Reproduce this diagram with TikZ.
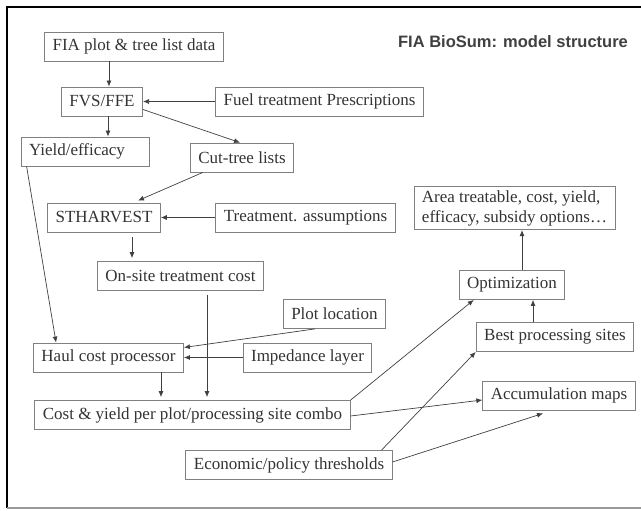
\documentclass[tikz,border=0pt]{standalone}
\usepackage{fontspec}
\setmainfont{Liberation Serif}
\newfontfamily\titlefont{Liberation Sans}
\usepackage{tikz}
\usetikzlibrary{arrows.meta}
\usetikzlibrary{positioning}

\begin{document}
\begin{tikzpicture}[x=1pt, y=-1pt,
		box/.style={draw=black!50, line width=0.8pt, inner xsep=8pt, minimum height=29pt, text=black!80, font=\fontsize{17}{20}\selectfont},
		arr/.style={draw=black!75, line width=0.7pt, -{Latex[length=6pt,width=5pt]}},
		line/.style={draw=black!75, line width=0.7pt}]
		\useasboundingbox (0,0) rectangle (641,511);
		\draw[line width=1.5pt] (641,7) -- (7,7) -- (7,508);
		\draw[black!40, line width=1.2pt] (7,508) -- (641,508);
		\node[text=black!75, font=\titlefont\bfseries\fontsize{16.5}{20}\selectfont] (title) at (513,42) {FIA BioSum: model structure};
		\node[box] (data) at (134,46.5) {FIA plot \& tree list data};
		\node[box] (fvs) at (102,101.5) {FVS/FFE};
		\node[box] (fuel) at (319.5,101.5) {Fuel treatment Prescriptions};
		\node[box, text width=112pt, align=left] (yield) at (85,151.5) {Yield/efficacy};
		\node[box] (cut) at (242,157.5) {Cut-tree lists};
		\node[box] (sth) at (104,217.5) {STHARVEST};
		\node[box] (treat) at (305.5,217.5) {Treatment. assumptions};
		\node[box, align=left, inner ysep=4pt] (area) at (514.5,208) {Area treatable, cost, yield,\\efficacy, subsidy options\ldots};
		\node[box] (onsite) at (180.5,276) {On-site treatment cost};
		\node[box] (plot) at (334.5,314) {Plot location};
		\node[box] (opt) at (512,285) {Optimization};
		\node[box] (haul) at (108.5,357.5) {Haul cost processor};
		\node[box] (imped) at (307.5,357.5) {Impedance layer};
		\node[box] (best) at (555,337) {Best processing sites};
		\node[box] (accum) at (559,395.5) {Accumulation maps};
		\node[box] (cost) at (192.5,415) {Cost \& yield per plot/processing site combo};
		\node[box] (econ) at (289,465) {Economic/policy thresholds};
		\draw[arr] ([xshift=7pt]fvs.north |- data.south) -- ([xshift=7pt]fvs.north);
		\draw[arr] (fuel.west) -- (fvs.east);
		\draw[arr] ([xshift=6pt]fvs.south) -- ([xshift=6pt]fvs.south |- yield.north);
		\draw[arr] ([yshift=-8pt]fvs.east) -- ([xshift=-2pt]cut.north);
		\draw[arr] ([xshift=13pt]cut.south west) -- ([xshift=34pt,yshift=2pt]sth.north);
		\draw[arr] (treat.west) -- (sth.east);
		\draw[arr, shorten >=3pt] ([xshift=28pt,yshift=-5pt]sth.south) -- ([xshift=28pt]sth.south |- onsite.north);
		\draw[arr] ([xshift=6pt]yield.south west) -- ([xshift=23pt]haul.north west);
		\draw[arr, shorten >=3pt] ([xshift=26.5pt,yshift=-4pt]onsite.south) -- ([xshift=26.5pt]onsite.south |- cost.north);
		\draw[arr] ([xshift=32pt]plot.south west) -- ([yshift=10pt]haul.east);
		\draw[arr] (imped.west) -- (haul.east);
		\draw[arr, shorten >=3pt] ([xshift=52.5pt]haul.south) -- ([xshift=52.5pt]haul.south |- cost.north);
		\draw[arr] (cost.north east) -- ([xshift=15pt]opt.south west);
		\draw[arr] ([yshift=-1pt]cost.east) -- ([yshift=-4.5pt]accum.west);
		\draw[arr] ([xshift=-11pt]econ.north east) -- (best.south west);
		\draw[arr] ([yshift=3pt]econ.east) -- ([xshift=-16pt,yshift=-3pt]accum.south);
		\draw[arr] ([xshift=-22pt]best.north) -- ([xshift=-22pt]best.north |- opt.south);
		\draw[arr] ([xshift=10pt]opt.north) -- ([xshift=10pt]opt.north |- area.south);
	\end{tikzpicture}
\end{document}
